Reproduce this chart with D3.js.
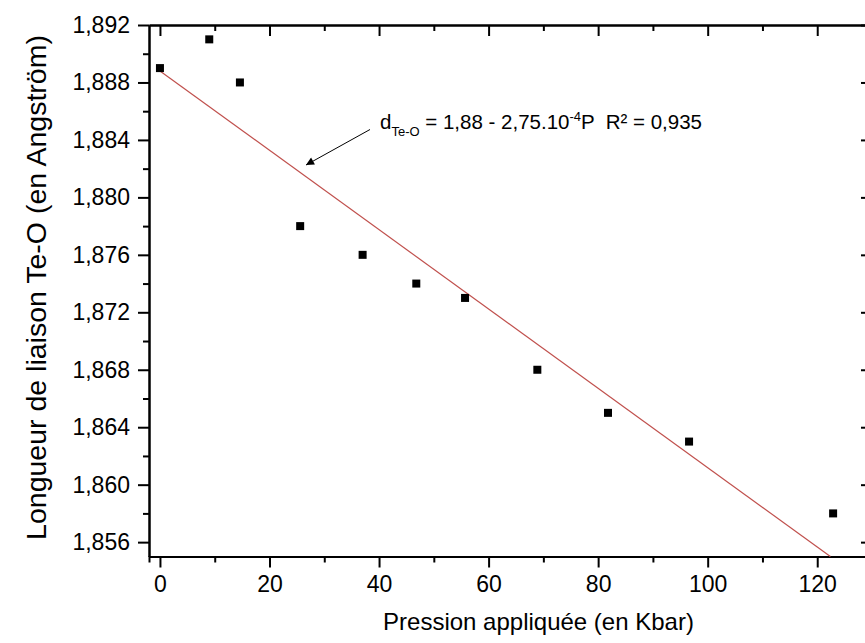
<!DOCTYPE html>
<html>
<head>
<meta charset="utf-8">
<script src="https://cdn.jsdelivr.net/npm/d3@7"></script>
<style>
  html, body { margin: 0; padding: 0; background: #fff; }
  svg { display: block; font-family: Arial, "Liberation Sans", sans-serif; }
</style>
</head>
<body>
<svg id="chart" width="865" height="643"></svg>
<script>
// ---- data ----
const pressure = [0, 9, 14.6, 25.6, 37, 46.8, 55.7, 68.9, 81.8, 96.6, 122.9];
const bondLength = [1.889, 1.891, 1.888, 1.878, 1.876, 1.874, 1.873, 1.868, 1.865, 1.863, 1.858];
const fitX = [0, 122.4];
const fitY = [1.8888, 1.855];
const xTicks = [0, 20, 40, 60, 80, 100, 120];
const xMinorTicks = [10, 30, 50, 70, 90, 110];
const yTicks = [1.856, 1.860, 1.864, 1.868, 1.872, 1.876, 1.880, 1.884, 1.888, 1.892];
const yMinorTicks = [1.858, 1.862, 1.866, 1.870, 1.874, 1.878, 1.882, 1.886, 1.890];
const xTitle = "Pression appliquée (en Kbar)";
const yTitle = "Longueur de liaison Te-O (en Angström)";

(function () {
// ---- layout ----
const svg = d3.select("#chart");
const mLeft = 149, mRight = 872, mTop = 25, mBottom = 556.5;
const x = d3.scaleLinear().domain([-2, 130]).range([mLeft, mRight]);
const y = d3.scaleLinear().domain([1.855, 1.892]).range([mBottom, mTop]);
const fmt = v => d3.format(".3f")(v).replace(".", ",");

const axisStyle = g => {
  g.selectAll("path").attr("stroke", "#000").attr("stroke-width", 2);
  g.selectAll("line").attr("stroke", "#000").attr("stroke-width", 2);
  g.selectAll("text").attr("fill", "#000").attr("font-size", 23)
    .attr("font-family", "Arial, 'Liberation Sans', sans-serif");
};

// bottom axis
svg.append("g").attr("transform", `translate(0,${mBottom})`)
  .call(d3.axisBottom(x).tickValues(xMinorTicks).tickSize(6).tickFormat(""))
  .call(axisStyle);
svg.append("g").attr("transform", `translate(0,${mBottom})`)
  .call(d3.axisBottom(x).tickValues(xTicks).tickSize(11).tickSizeOuter(0).tickPadding(8).tickFormat(d3.format("d")))
  .call(axisStyle);
// top axis (inward ticks)
svg.append("g").attr("transform", `translate(0,${mTop})`)
  .call(d3.axisTop(x).tickValues(xMinorTicks).tickSize(-6).tickSizeOuter(0).tickFormat(""))
  .call(axisStyle);
svg.append("g").attr("transform", `translate(0,${mTop})`)
  .call(d3.axisTop(x).tickValues(xTicks).tickSize(-11).tickSizeOuter(0).tickFormat(""))
  .call(axisStyle);
// left axis
svg.append("g").attr("transform", `translate(${mLeft},0)`)
  .call(d3.axisLeft(y).tickValues(yMinorTicks).tickSize(6).tickSizeOuter(0).tickFormat(""))
  .call(axisStyle);
svg.append("g").attr("transform", `translate(${mLeft},0)`)
  .call(d3.axisLeft(y).tickValues(yTicks).tickSize(11).tickSizeOuter(0).tickPadding(8).tickFormat(fmt))
  .call(axisStyle);
// right axis (inward ticks)
svg.append("g").attr("transform", `translate(${mRight},0)`)
  .call(d3.axisRight(y).tickValues(yMinorTicks).tickSize(-6).tickSizeOuter(0).tickFormat(""))
  .call(axisStyle);
svg.append("g").attr("transform", `translate(${mRight},0)`)
  .call(d3.axisRight(y).tickValues(yTicks).tickSize(-11).tickSizeOuter(0).tickFormat(""))
  .call(axisStyle);

// fit line
const fitData = fitX.map((v, i) => [v, fitY[i]]);
svg.append("path")
  .datum(fitData)
  .attr("fill", "none")
  .attr("stroke", "#c0504d")
  .attr("stroke-width", 1.2)
  .attr("d", d3.line().x(d => x(d[0])).y(d => y(d[1])));

// points
const pts = pressure.map((p, i) => ({ p, v: bondLength[i] }));
const sq = 8;
svg.append("g").selectAll("rect").data(pts).join("rect")
  .attr("x", d => x(d.p) - sq / 2)
  .attr("y", d => y(d.v) - sq / 2)
  .attr("width", sq).attr("height", sq)
  .attr("fill", "#000");

// annotation arrow
const defs = svg.append("defs");
defs.append("marker").attr("id", "arrow")
  .attr("viewBox", "0 0 10 10").attr("refX", 10).attr("refY", 5)
  .attr("markerWidth", 12).attr("markerHeight", 8)
  .attr("markerUnits", "userSpaceOnUse")
  .attr("orient", "auto")
  .append("path").attr("d", "M0,0 L10,5 L0,10 Z").attr("fill", "#000");
svg.append("line")
  .attr("x1", 370).attr("y1", 129.5)
  .attr("x2", 306).attr("y2", 165)
  .attr("stroke", "#000").attr("stroke-width", 1)
  .attr("marker-end", "url(#arrow)");

// annotation text
const ann = svg.append("text").attr("x", 380).attr("y", 128.5)
  .attr("font-size", 20.5).attr("fill", "#000")
  .attr("xml:space", "preserve").style("white-space", "pre");
ann.append("tspan").text("d");
ann.append("tspan").attr("font-size", 13).attr("dy", 7).text("Te-O");
ann.append("tspan").attr("dy", -7).text(" = 1,88 - 2,75.10");
ann.append("tspan").attr("font-size", 13).attr("dy", -8).text("-4");
ann.append("tspan").attr("dy", 8).text("P  R² = 0,935");

// axis titles
svg.append("text")
  .attr("x", (mLeft + 928) / 2).attr("y", 630)
  .attr("text-anchor", "middle").attr("font-size", 24).attr("fill", "#000")
  .text(xTitle);
svg.append("text")
  .attr("transform", `translate(46,${(35 + 540) / 2}) rotate(-90)`)
  .attr("text-anchor", "middle").attr("font-size", 28.5).attr("fill", "#000")
  .text(yTitle);
})();
</script>
</body>
</html>
